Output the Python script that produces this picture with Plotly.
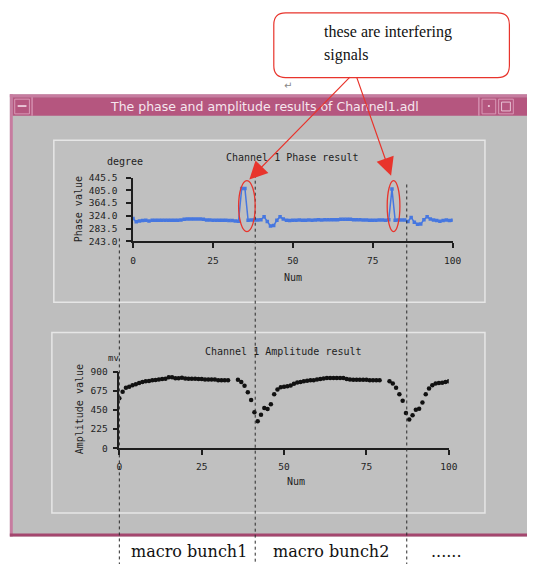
import plotly.graph_objects as go

W, H = 536, 569

# ---------------- data ----------------
num = list(range(101))

phase_deg = [316, 305, 308, 309, 310, 308, 310, 310, 310, 310,
             310, 310, 310, 310, 310, 311, 313, 314, 314, 314,
             314, 314, 313, 311, 311, 310, 310, 310, 310, 310,
             309, 309, 308, 307, 411, 411, 310, 311, 311, 311,
             312, 321, 306, 292, 293, 310, 321, 314, 310, 309,
             310, 310, 311, 310, 310, 311, 310, 311, 312, 311,
             312, 312, 312, 312, 312, 313, 313, 313, 313, 312,
             312, 312, 311, 311, 310, 310, 310, 311, 311, 310,
             312, 409, 310, 311, 311, 311, 306, 319, 304, 297,
             298, 312, 321, 314, 311, 309, 307, 309, 311, 309,
             310]

amplitude_mv = [590, 665, 712, 723, 742, 754, 769, 781, 788, 792,
                800, 804, 808, 815, 818, 835, 835, 823, 825, 830,
                822, 818, 818, 818, 815, 815, 808, 808, 808, 808,
                800, 800, 800, 800, None, None, 805, 781, 735, 658,
                569, 423, 319, 396, 473, 462, 519, 635, 692, 719,
                723, 730, 740, 760, 773, 780, 790, 795, 800, 800,
                808, 815, 820, 827, 827, 827, 827, 827, 827, 815,
                808, 805, 805, 805, 805, 805, 800, 800, 800, 800,
                None, None, 788, 762, 712, 635, 558, 415, 338, 388,
                454, 465, 538, 635, 704, 742, 762, 768, 771, 780,
                788]

x_ticks = [0, 25, 50, 75, 100]
phase_ticks = [243.0, 283.5, 324.0, 364.5, 405.0, 445.5]
phase_tick_text = ["243.0", "283.5", "324.0", "364.5", "405.0", "445.5"]
amp_ticks = [0, 225, 450, 675, 900]
amp_tick_text = ["0", "225", "450", "675", "900"]

window_title = "The phase and amplitude results of Channel1.adl"
phase_title = "Channel 1 Phase result"
amp_title = "Channel 1 Amplitude result"
callout_lines = ["these are interfering", "signals"]
bunch_labels = ["macro bunch1", "macro bunch2", "......"]

# ---------------- helpers ----------------
def fx(p):
    return p / W

def fy(p):
    return 1 - p / H

MONO = "DejaVu Sans Mono"
INK = "#1e1e1e"
RED = "#E8342C"
BLUE = "#4677E0"

fig = go.Figure()

fig.add_trace(go.Scatter(
    x=num, y=phase_deg, mode="lines+markers",
    line=dict(color=BLUE, width=1.5),
    marker=dict(symbol="square", size=3.5, color=BLUE),
    xaxis="x", yaxis="y", showlegend=False, hoverinfo="skip"))

fig.add_trace(go.Scatter(
    x=num, y=amplitude_mv, mode="markers",
    marker=dict(symbol="circle", size=4.5, color="#111111"),
    xaxis="x2", yaxis="y2", showlegend=False, hoverinfo="skip"))

axis_common = dict(showgrid=False, zeroline=False, showline=True,
                   linecolor=INK, linewidth=1.5, ticks="outside",
                   ticklen=5, tickwidth=1.5, tickcolor=INK,
                   tickfont=dict(family=MONO, size=9.5, color=INK),
                   fixedrange=True)

fig.update_layout(
    width=W, height=H,
    margin=dict(l=0, r=0, t=0, b=0),
    paper_bgcolor="white",
    plot_bgcolor="rgba(0,0,0,0)",
    xaxis=dict(domain=[fx(133), fx(460)], range=[0, 100],
               tickvals=x_ticks, anchor="y", ticklabelstandoff=4, **axis_common),
    yaxis=dict(domain=[fy(240), fy(175)], range=[243, 445.5],
               tickvals=phase_ticks, ticktext=phase_tick_text, anchor="x",
               ticklabelstandoff=7, **axis_common),
    xaxis2=dict(domain=[fx(119), fx(456)], range=[0, 100],
                tickvals=x_ticks, anchor="y2", ticklabelstandoff=4, **axis_common),
    yaxis2=dict(domain=[fy(451), fy(373)], range=[0, 900],
                tickvals=amp_ticks, ticktext=amp_tick_text, anchor="x2",
                ticklabelstandoff=3, **axis_common),
)

shapes = []

def rect(x0, y0, x1, y1, fill, line=None, lw=0, layer="below"):
    shapes.append(dict(type="rect", xref="paper", yref="paper",
                       x0=fx(x0), x1=fx(x1), y0=fy(y1), y1=fy(y0),
                       fillcolor=fill,
                       line=dict(color=line or fill, width=lw),
                       layer=layer))

# window frame
rect(7, 90, 536, 541, "#BEBEBE")
rect(7, 90, 10, 541, "#C77CA0")
rect(7, 90, 536, 93, "#C77CA0")
rect(10, 93, 536, 112, "#B5567F")
rect(29, 93, 30.5, 112, "#D58FB0")
rect(486, 93, 487.5, 112, "#D58FB0")
rect(12, 95, 27, 110, "#B5567F", "#D99AB7", 1)
rect(15, 101, 24, 103, "#E8C3D5")
rect(490, 95, 504, 110, "#B5567F", "#D99AB7", 1)
rect(496, 101, 498, 103, "#E8C3D5")
rect(507, 95, 522, 110, "#B5567F", "#D99AB7", 1)
rect(510, 98, 519, 107, "#B5567F", "#E8C3D5", 1)
rect(7, 538, 536, 541, "#A4466E")

# panels
rect(52, 137, 493, 302, "#C0C0C0", "#E6E6E6", 1.5)
rect(50, 333, 493, 517, "#C0C0C0", "#E6E6E6", 1.5)

# dotted separators
for xp, ytop in [(119, 237), (258, 172), (413, 182)]:
    shapes.append(dict(type="line", xref="paper", yref="paper",
                       x0=fx(xp), x1=fx(xp), y0=fy(ytop), y1=fy(569),
                       line=dict(color="#2a2a2a", width=1, dash="dot"),
                       layer="above"))

# red ellipses
for x0, y0, x1, y1 in [(241, 178, 258, 230), (393, 178, 406, 230)]:
    shapes.append(dict(type="circle", xref="paper", yref="paper",
                       x0=fx(x0), x1=fx(x1), y0=fy(y1), y1=fy(y0),
                       line=dict(color=RED, width=1.3), layer="above"))

# callout rounded box
l, t, R, B, r = 277, 7, 518, 73, 12
pts = [("M", l + r, t), ("L", R - r, t), ("Q", R, t, R, t + r), ("L", R, B - r),
       ("Q", R, B, R - r, B), ("L", l + r, B), ("Q", l, B, l, B - r),
       ("L", l, t + r), ("Q", l, t, l + r, t)]
path = ""
for p in pts:
    cmd = p[0]
    coords = p[1:]
    s = []
    for i in range(0, len(coords), 2):
        s.append(f"{fx(coords[i]):.5f},{fy(coords[i+1]):.5f}")
    path += cmd + " " + " ".join(s) + " "
path += "Z"
shapes.append(dict(type="path", xref="paper", yref="paper", path=path,
                   fillcolor="white", line=dict(color=RED, width=1.2),
                   layer="above"))

fig.update_layout(shapes=shapes)

ann = []

def text(x, y, s, size=10, family=MONO, color=INK, xanchor="center",
         angle=0):
    ann.append(dict(x=fx(x), y=fy(y), xref="paper", yref="paper", text=s,
                    showarrow=False, xanchor=xanchor, yanchor="middle",
                    textangle=angle,
                    font=dict(family=family, size=size, color=color)))

text(267, 102, window_title, size=12.5, family="DejaVu Sans", color="#F6E6EE")
text(296, 154, phase_title)
text(125, 159, "degree")
text(78, 207, "Phase value", angle=-90)
text(297, 277, "Num")
text(287, 352, amp_title)
text(113, 359, "mv", size=9)
text(78, 411, "Amplitude value", angle=-90)
text(300, 485, "Num")

text(326, 27, callout_lines[0], size=16, family="Liberation Serif",
     color="#111111", xanchor="left")
text(326, 50, callout_lines[1], size=16, family="Liberation Serif",
     color="#111111", xanchor="left")
text(292, 81, "\u21b5", size=10, family="DejaVu Sans", color="#888888")

for xc, s in zip([190, 336, 454], bunch_labels):
    text(xc, 556, s, size=16, family="DejaVu Serif", color="#111111")

# arrows from callout to interfering peaks
for tip, tail in [((252, 177), (354, 73)), ((397, 173), (362, 73))]:
    ann.append(dict(x=fx(tip[0]), y=fy(tip[1]), xref="paper", yref="paper",
                    ax=tail[0] - tip[0], ay=tail[1] - tip[1],
                    text="", showarrow=True, arrowhead=2, arrowsize=3,
                    arrowwidth=1.2, arrowcolor=RED))

fig.update_layout(annotations=ann)

fig.write_html(
    "out.html",
    config={"displayModeBar": False},
    post_script="document.body.style.margin='0';document.body.style.overflow='hidden';",
)
